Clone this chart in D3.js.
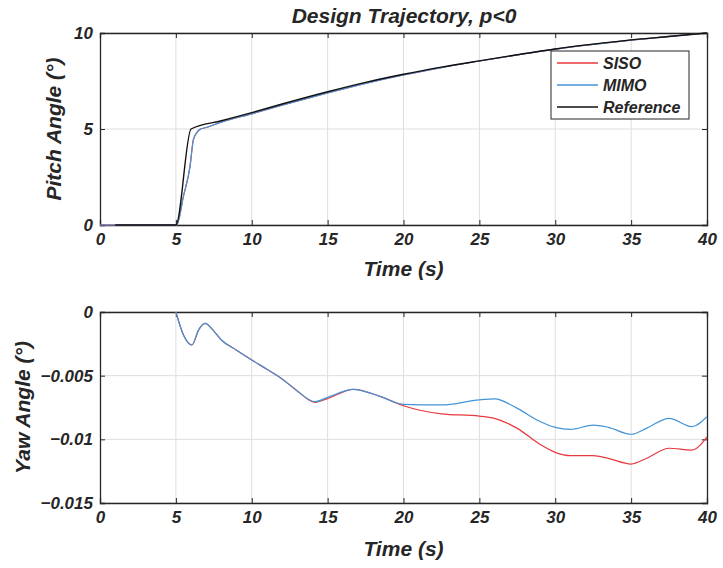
<!DOCTYPE html>
<html>
<head>
<meta charset="utf-8">
<script src="https://cdn.jsdelivr.net/npm/d3@7"></script>
<style>
  body { margin: 0; background: #fff; }
  svg text { font-family: "Liberation Sans", Arial, sans-serif; font-weight: bold; font-style: italic; fill: #262626; }
  .grid line { stroke: #dedede; stroke-width: 1; }
</style>
</head>
<body>
<div id="chart"></div>
<script>
// Pitch angle (deg) vs time (s)
const pitchRefT = [1, 5, 6, 8, 10, 12, 15, 17.5, 20, 22.5, 25, 27.5, 30, 32.5, 35, 37.5, 40];
const pitchRef  = [0, 0, 5.0, 5.43, 5.85, 6.3, 6.94, 7.43, 7.85, 8.22, 8.55, 8.87, 9.17, 9.42, 9.64, 9.82, 10];
const pitchCtrlT = [0, 5, 5.05, 5.5, 5.93, 6.15, 6.37, 6.59, 7, 8, 10, 12, 15, 17.5, 20, 22.5, 25, 27.5, 30, 32.5, 35, 37.5, 40];
const pitchSiso  = [0, 0, 0, 1.5, 3.04, 4.43, 4.8, 4.98, 5.08, 5.36, 5.79, 6.24, 6.88, 7.38, 7.82, 8.2, 8.54, 8.86, 9.16, 9.41, 9.63, 9.82, 10];
const pitchMimo  = [0, 0, 0, 1.5, 3.04, 4.43, 4.8, 4.98, 5.08, 5.36, 5.79, 6.24, 6.88, 7.38, 7.82, 8.2, 8.54, 8.86, 9.16, 9.41, 9.63, 9.82, 10];

// Yaw angle (deg) vs time (s)
const yawT    = [5, 5.5, 6.06, 6.5, 6.92, 7.5, 8, 9, 10, 11, 12, 13, 14.17, 15, 16.7, 18.5, 20, 22.5, 25, 26, 27.5, 29, 30, 31, 32.5, 33.5, 35, 36, 37.5, 39, 40];
const yawSiso = [0, -0.0018, -0.00259, -0.0014, -0.00089, -0.0015, -0.0022, -0.003, -0.00377, -0.0045, -0.00526, -0.0062, -0.0071, -0.0068, -0.00607, -0.00665, -0.00736, -0.0080, -0.00817, -0.00835, -0.00914, -0.0104, -0.01102, -0.01128, -0.01128, -0.0115, -0.01194, -0.0115, -0.0107, -0.01084, -0.0098];
const yawMimo = [0, -0.0018, -0.00259, -0.0014, -0.00089, -0.0015, -0.0022, -0.003, -0.00377, -0.0045, -0.00526, -0.0062, -0.00704, -0.0067, -0.00607, -0.00665, -0.00725, -0.0073, -0.0069, -0.00683, -0.00757, -0.0086, -0.00906, -0.00922, -0.00888, -0.00906, -0.0096, -0.00914, -0.00835, -0.009, -0.00822];

const xTicks = [0, 5, 10, 15, 20, 25, 30, 35, 40];
const pitchTicks = [0, 5, 10];
const yawTicks = [0, -0.005, -0.01, -0.015];

const colors = { siso: "#e8393f", mimo: "#4394d6", ref: "#111111" };

const svg = d3.select("#chart").append("svg")
  .attr("width", 723).attr("height", 568);

const left = 100, right = 707;
const x = d3.scaleLinear().domain([0, 40]).range([left, right]);

function panel(top, bottom, yDomain, yTicks, yFmt, ylabel) {
  const y = d3.scaleLinear().domain(yDomain).range([bottom, top]);
  const g = svg.append("g");

  // grid
  const grid = g.append("g").attr("class", "grid");
  grid.selectAll(".gx").data(xTicks.slice(1, -1)).enter().append("line")
    .attr("x1", d => x(d)).attr("x2", d => x(d)).attr("y1", top).attr("y2", bottom);
  grid.selectAll(".gy").data(yTicks).enter().append("line")
    .attr("x1", left).attr("x2", right).attr("y1", d => y(d)).attr("y2", d => y(d));

  // axes (ticks inward, box on)
  const ax = g.append("g").attr("transform", `translate(0,${bottom})`)
    .call(d3.axisBottom(x).tickValues(xTicks).tickSize(-5).tickPadding(8).tickFormat(d3.format("d")));
  const axT = g.append("g").attr("transform", `translate(0,${top})`)
    .call(d3.axisTop(x).tickValues(xTicks).tickSize(-5).tickFormat(""));
  const ay = g.append("g").attr("transform", `translate(${left},0)`)
    .call(d3.axisLeft(y).tickValues(yTicks).tickSize(-5).tickPadding(7).tickFormat(yFmt));
  const ayR = g.append("g").attr("transform", `translate(${right},0)`)
    .call(d3.axisRight(y).tickValues(yTicks).tickSize(-5).tickFormat(""));
  [ax, axT, ay, ayR].forEach(a => {
    a.selectAll("path").attr("stroke", "#262626").attr("stroke-width", 1.3);
    a.selectAll("line").attr("stroke", "#262626");
    a.selectAll("text").style("font-size", "17px").attr("fill", "#262626");
  });

  g.append("text")
    .attr("x", (left + right) / 2).attr("y", bottom + ylabel.tb)
    .attr("text-anchor", "middle").style("font-size", "21px")
    .text("Time (s)");
  g.append("text")
    .attr("transform", `translate(${ylabel.x},${(top + bottom) / 2}) rotate(-90)`)
    .attr("text-anchor", "middle").style("font-size", "21px")
    .text(ylabel.text);

  return y;
}

function drawLine(y, ts, vs, color, width) {
  const line = d3.line()
    .x((d, i) => x(ts[i]))
    .y(d => y(d))
    .curve(d3.curveMonotoneX);
  svg.append("path").datum(vs)
    .attr("fill", "none").attr("stroke", color).attr("stroke-width", width)
    .attr("d", line);
}

// top panel
const yTop = panel(33, 225, [0, 10], pitchTicks, d3.format("d"), { x: 61, tb: 51, text: "Pitch Angle (\u00B0)" });
drawLine(yTop, pitchCtrlT, pitchSiso, colors.siso, 1.2);
drawLine(yTop, pitchCtrlT, pitchMimo, colors.mimo, 1.2);
drawLine(yTop, pitchRefT, pitchRef, colors.ref, 1.4);

svg.append("text")
  .attr("x", 404).attr("y", 23)
  .attr("text-anchor", "middle").style("font-size", "21px")
  .text("Design Trajectory, p<0");

// legend
const legend = svg.append("g").attr("transform", "translate(551,51)");
legend.append("rect").attr("width", 138).attr("height", 68)
  .attr("fill", "#fff").attr("stroke", "#262626").attr("stroke-width", 1);
const items = [["SISO", colors.siso], ["MIMO", colors.mimo], ["Reference", colors.ref]];
items.forEach((it, i) => {
  const row = legend.append("g").attr("transform", `translate(0,${12 + i * 22})`);
  row.append("line").attr("x1", 6).attr("x2", 47).attr("y1", 0).attr("y2", 0)
    .attr("stroke", it[1]).attr("stroke-width", 1.3);
  row.append("text").attr("x", 52).attr("y", 6).style("font-size", "16px").text(it[0]);
});

// bottom panel
const yBot = panel(312, 503, [-0.015, 0], yawTicks, d => d === 0 ? "0" : d3.format("")(d), { x: 30, tb: 53, text: "Yaw Angle (\u00B0)" });
drawLine(yBot, yawT, yawSiso, colors.siso, 1.2);
drawLine(yBot, yawT, yawMimo, colors.mimo, 1.2);
</script>
</body>
</html>
